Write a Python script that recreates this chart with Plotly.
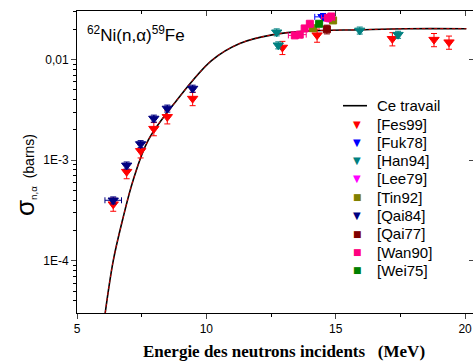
import plotly.graph_objects as go

# ---- data ----
curve_E = [6.09, 6.40, 6.76, 7.17, 7.75, 8.85, 10.2, 11.29, 12.59, 13.88, 15.94, 17.75, 20.05]
curve_logS = [-4.518, -4.0, -3.594, -3.198, -2.802, -2.406, -2.01, -1.84, -1.752, -1.717, -1.703, -1.693, -1.693]
curve_S = [10 ** v for v in curve_logS]

fes99_E = [6.40, 6.92, 7.46, 7.97, 8.49, 9.47, 12.94, 14.28, 17.19, 18.80, 19.38]
fes99_S = [3.66e-4, 7.7e-4, 1.24e-3, 2.06e-3, 2.7e-3, 4.1e-3, 0.0132, 0.0175, 0.0161, 0.0158, 0.0149]

fuk78_E = [14.51]
fuk78_S = [0.0266]
fuk78_dE = [0.32]

han94_E = [12.72, 12.78, 15.93, 17.41]
han94_S = [0.0187, 0.0139, 0.0195, 0.0177]

lee79_E = [14.75]
lee79_S = [0.0258]

tin92_E = [14.12, 14.90]
tin92_S = [0.0205, 0.0245]

qai84_E = [6.40, 6.92, 7.46, 7.97, 8.49, 9.47]
qai84_S = [4.0e-4, 8.9e-4, 1.45e-3, 2.6e-3, 3.27e-3, 5.16e-3]
qai84_dE = [0.32, 0, 0, 0, 0, 0]

qai77_E = [14.66]
qai77_S = [0.0200]

wan90_E = [13.42, 13.61, 13.80, 14.00, 14.70, 14.83]
wan90_S = [0.0174, 0.0177, 0.0204, 0.0227, 0.0260, 0.0268]
wan90_dE = [0.25, 0.25, 0.0, 0.0, 0.25, 0.0]

wei75_E = [14.36]
wei75_S = [0.0227]

ytick_vals = [1e-4, 1e-3, 1e-2]
ytick_text = ["1E-4", "1E-3", "0,01"]
xtick_vals = [5, 10, 15, 20]

legend_names = ["[Fes99]", "[Fuk78]", "[Han94]", "[Lee79]", "[Tin92]",
                "[Qai84]", "[Qai77]", "[Wan90]", "[Wei75]"]
legend_colors = ["#ff0000", "#0000ff", "#008080", "#ff00ff", "#808000",
                 "#000080", "#800000", "#ff0080", "#008000"]
legend_symbols = ["▼", "▼", "▼", "▼", "■", "▼", "■", "■", "■"]

FONT = "Arial, Liberation Sans, sans-serif"

# plot area geometry (px) for paper coordinate conversion
L, R, T, B = 77, 473, 11, 313


def px(xp):
    return (xp - L) / (R - L)


def py(yp):
    return (B - yp) / (B - T)


fig = go.Figure()

fig.add_trace(go.Scatter(x=curve_E, y=curve_S, mode="lines", name="Ce travail",
                         line=dict(color="black", width=1.6, shape="spline")))
fig.add_trace(go.Scatter(x=curve_E, y=curve_S, mode="lines", showlegend=False,
                         line=dict(color="#ff0000", width=0.8, dash="dot", shape="spline")))


def pts(x, y, name, color, symbol, size, ey=None, ex=None):
    kw = {}
    if ey is not None:
        kw["error_y"] = dict(type="percent", value=ey, color=color, thickness=1, width=3)
    if ex is not None:
        kw["error_x"] = dict(type="data", array=ex, color=color, thickness=1, width=3)
    fig.add_trace(go.Scatter(x=x, y=y, mode="markers", name=name,
                             marker=dict(color=color, symbol=symbol, size=size,
                                         line=dict(color=color, width=1)), **kw))


pts(fes99_E, fes99_S, "[Fes99]", "#ff0000", "triangle-down", 9, ey=15)
pts(fuk78_E, fuk78_S, "[Fuk78]", "#0000ff", "triangle-down", 9, ey=8, ex=fuk78_dE)
pts(han94_E, han94_S, "[Han94]", "#008080", "triangle-down", 9, ey=8)
pts(lee79_E, lee79_S, "[Lee79]", "#ff00ff", "triangle-down", 9, ey=8)
pts(tin92_E, tin92_S, "[Tin92]", "#808000", "square", 7, ey=6)
pts(qai84_E, qai84_S, "[Qai84]", "#000080", "triangle-down", 9, ey=8, ex=qai84_dE)
pts(qai77_E, qai77_S, "[Qai77]", "#800000", "square", 7, ey=10)
pts(wan90_E, wan90_S, "[Wan90]", "#ff0080", "square", 7, ey=5, ex=wan90_dE)
pts(wei75_E, wei75_S, "[Wei75]", "#008000", "square", 7, ey=5)

# dummy trace for mirrored axes (top / right with inward ticks)
fig.add_trace(go.Scatter(x=[None], y=[None], xaxis="x2", yaxis="y2", showlegend=False,
                         hoverinfo="skip"))

xr = [5, 5 + (R - L) / 25.87]
yr = [-4.518, -1.517]

ymin_vals = [m * 10 ** e for e in (-5, -4, -3, -2) for m in range(2, 10)]
ymin_vals = [v for v in ymin_vals if 10 ** yr[0] < v < 10 ** yr[1]]

fig.update_layout(
    width=473, height=363,
    margin=dict(l=L, r=473 - R, t=T, b=363 - B),
    paper_bgcolor="white", plot_bgcolor="white",
    font=dict(family=FONT, color="black", size=12),
    showlegend=False,
    xaxis=dict(range=xr, tickvals=xtick_vals, ticks="outside", ticklen=5, tickwidth=1,
               showline=True, linecolor="black", linewidth=1, showgrid=False, zeroline=False,
               tickfont=dict(size=12, family=FONT),
               minor=dict(tickvals=[7.5, 12.5, 17.5], ticks="outside", ticklen=3,
                          tickcolor="black", showgrid=False)),
    yaxis=dict(type="log", range=yr, tickvals=ytick_vals, ticktext=ytick_text,
               ticks="outside", ticklen=5, tickwidth=1,
               showline=True, linecolor="black", linewidth=1, showgrid=False, zeroline=False,
               tickfont=dict(size=12, family=FONT),
               minor=dict(tickvals=ymin_vals, ticks="outside", ticklen=3,
                          tickcolor="black", showgrid=False)),
    xaxis2=dict(range=xr, overlaying="x", side="top", anchor="y", tickvals=xtick_vals,
                ticks="inside", ticklen=5, showticklabels=False, showline=True,
                linecolor="black", showgrid=False, zeroline=False,
                minor=dict(tickvals=[7.5, 12.5, 17.5], ticks="inside", ticklen=3,
                           tickcolor="black", showgrid=False)),
    yaxis2=dict(type="log", range=yr, overlaying="y", side="right", anchor="x",
                tickvals=ytick_vals, ticks="inside", ticklen=4, showticklabels=False,
                showline=True, linecolor="black", showgrid=False, zeroline=False),
)

# ---- legend (drawn as shapes / annotations) ----
row0, dy = 105.7, 18.3
fig.add_shape(type="line", xref="paper", yref="paper",
              x0=px(343), x1=px(367), y0=py(row0), y1=py(row0),
              line=dict(color="black", width=1.6))
fig.add_annotation(xref="paper", yref="paper", x=px(375), y=py(row0), xanchor="left",
                   yanchor="middle", text="Ce travail", showarrow=False,
                   font=dict(size=15, family=FONT))
for i, (nm, col, sym) in enumerate(zip(legend_names, legend_colors, legend_symbols)):
    yy = row0 + dy * (i + 1)
    fig.add_annotation(xref="paper", yref="paper", x=px(357), y=py(yy), xanchor="center",
                       yanchor="middle", text=sym, showarrow=False,
                       font=dict(size=9 if sym == "■" else 10, family="DejaVu Sans", color=col))
    fig.add_annotation(xref="paper", yref="paper", x=px(375), y=py(yy), xanchor="left",
                       yanchor="middle", text=nm, showarrow=False,
                       font=dict(size=15, family=FONT))

fig.add_annotation(xref="paper", yref="paper", x=px(85), y=py(34), xanchor="left", yanchor="middle",
                   text="<sup>62</sup>Ni(n,α)<sup>59</sup>Fe", showarrow=False,
                   font=dict(size=17, family=FONT))

fig.add_annotation(xref="paper", yref="paper", x=px(284), y=py(352), xanchor="center", yanchor="middle",
                   text="<b>Energie des neutrons incidents\u00a0\u00a0\u00a0(MeV)</b>", showarrow=False,
                   font=dict(size=17, family="Liberation Serif, Times New Roman, serif"))

fig.add_annotation(xref="paper", yref="paper", x=px(25), y=py(175),
                   xanchor="center", yanchor="middle", textangle=-90,
                   text='<span style="font-size:26px">σ</span><sub>n,α</sub>\u00a0\u00a0(barns)',
                   showarrow=False, font=dict(size=14, family=FONT))

fig.write_html("out.html")
